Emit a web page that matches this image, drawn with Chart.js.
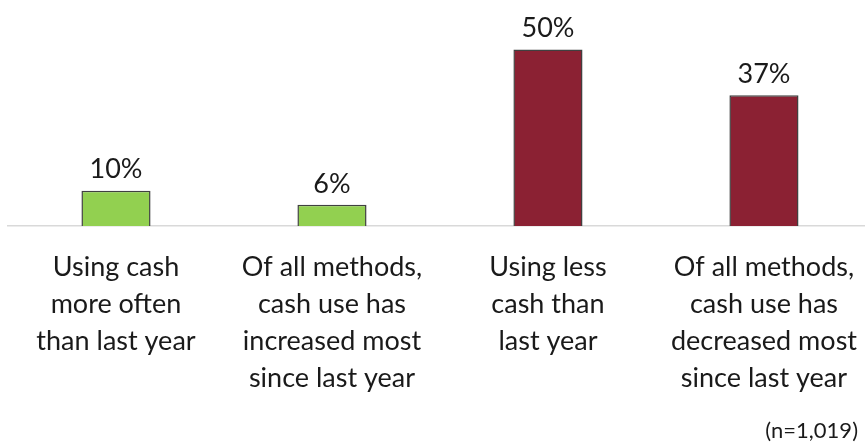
<!DOCTYPE html>
<html>
<head>
<meta charset="utf-8">
<script src="https://cdn.jsdelivr.net/npm/chart.js@4/dist/chart.umd.min.js"></script>
<style>
  html, body { margin: 0; padding: 0; background: #fff; overflow: hidden; }
  #wrap { width: 880px; height: 443px; }
</style>
</head>
<body>
<div id="wrap"><canvas id="cashChart" width="880" height="443"></canvas></div>
<script>
const categories = [
  ["Using cash", "more often", "than last year"],
  ["Of all methods,", "cash use has", "increased most", "since last year"],
  ["Using less", "cash than", "last year"],
  ["Of all methods,", "cash use has", "decreased most", "since last year"]
];
const shares = [10, 6, 50, 37];
const barColors = ["#92d050", "#92d050", "#8b2133", "#8b2133"];
const sampleNote = "(n=1,019)";

const textColor = "#1a1a1a";
const fontFamily = "Lato, 'Liberation Sans', sans-serif";

// value labels above each bar plus the sample size note
const labelsPlugin = {
  id: "valueLabels",
  afterDatasetsDraw(chart) {
    const ctx = chart.ctx;
    const meta = chart.getDatasetMeta(0);
    ctx.save();
    ctx.fillStyle = textColor;
    ctx.font = "27px " + fontFamily;
    ctx.textAlign = "center";
    ctx.textBaseline = "middle";
    meta.data.forEach((bar, i) => {
      ctx.fillText(shares[i] + "%", bar.x, bar.y - 21);
    });
    ctx.font = "22px " + fontFamily;
    ctx.textAlign = "right";
    ctx.fillText(sampleNote, 858, 431);
    ctx.restore();
  }
};

new Chart(document.getElementById("cashChart"), {
  type: "bar",
  data: {
    labels: categories,
    datasets: [{
      data: shares,
      backgroundColor: barColors,
      borderColor: "#404040",
      borderWidth: 1.5,
      categoryPercentage: 1,
      barPercentage: 0.32
    }]
  },
  options: {
    responsive: false,
    animation: false,
    layout: { padding: { left: 8, right: 0, top: 0, bottom: 23 } },
    plugins: { legend: { display: false }, tooltip: { enabled: false } },
    scales: {
      y: {
        display: false,
        min: 0,
        max: 64
      },
      x: {
        grid: { display: false, drawTicks: false },
        border: { display: true, color: "#d9d9d9", width: 1.5 },
        ticks: {
          color: textColor,
          padding: 23,
          maxRotation: 0,
          autoSkip: false,
          font: { family: fontFamily, size: 27, lineHeight: 1.37 }
        }
      }
    }
  },
  plugins: [labelsPlugin]
});
</script>
</body>
</html>
